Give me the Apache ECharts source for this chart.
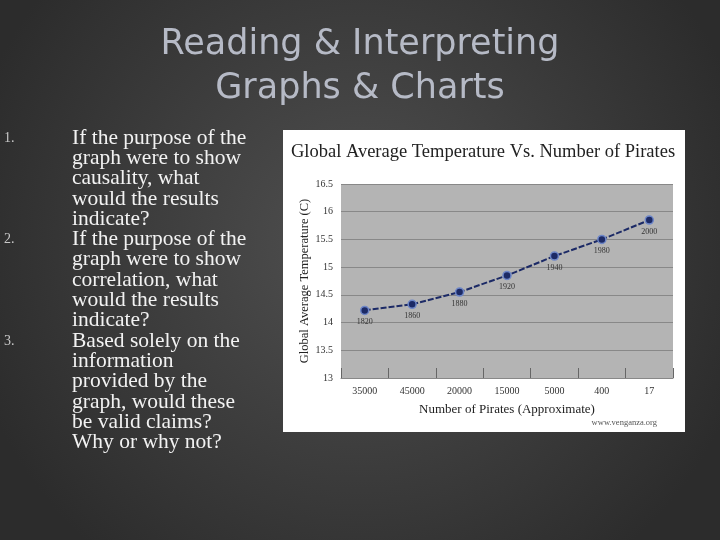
<!DOCTYPE html><html><head><meta charset="utf-8"><script src="https://cdn.jsdelivr.net/npm/echarts@6/dist/echarts.min.js"></script>
<style>html,body{margin:0;padding:0;background:#3a3a3a}#c{width:720px;height:540px}</style></head><body><div id="c"></div><script>
const categories=['35000','45000','20000','15000','5000','400','17'];
const temps=[14.22,14.33,14.55,14.85,15.2,15.5,15.85];
const years=['1820','1860','1880','1920','1940','1980','2000'];
const yTicks=[13,13.5,14,14.5,15,15.5,16,16.5];
const listLines=[['1.','If the purpose of the'],['','graph were to show'],['','causality, what'],['','would the results'],['','indicate?'],['2.','If the purpose of the'],['','graph were to show'],['','correlation, what'],['','would the results'],['','indicate?'],['3.','Based solely on the'],['','information'],['','provided by the'],['','graph, would these'],['','be valid claims?'],['','Why or why not?']];
const g=[];
g.push({type:'rect',shape:{x:0,y:0,width:720,height:540},style:{fill:{type:'radial',x:0.5,y:0.45,r:0.75,colorStops:[{offset:0,color:'#505050'},{offset:1,color:'#2c2c2c'}]}},z:-10});
g.push({type:'text',style:{x:360,y:45,text:'Reading & Interpreting',font:'35px "DejaVu Sans"',fill:'#b6bac6',textAlign:'center',textVerticalAlign:'middle'}});
g.push({type:'text',style:{x:360,y:89,text:'Graphs & Charts',font:'35px "DejaVu Sans"',fill:'#b6bac6',textAlign:'center',textVerticalAlign:'middle'}});
listLines.forEach((l,i)=>{const y=138+i*20.3;
 if(l[0])g.push({type:'text',style:{x:4,y:y,text:l[0],font:'14px "Liberation Serif"',fill:'#c8c8c8',textVerticalAlign:'middle'}});
 g.push({type:'text',style:{x:72,y:y,text:l[1],font:'21.5px "Liberation Serif"',fill:'#f2f2f2',textVerticalAlign:'middle'}});});
g.push({type:'rect',shape:{x:283,y:130,width:402,height:302},style:{fill:'#ffffff'},z:-5});
g.push({type:'rect',shape:{x:341,y:184,width:332,height:194},style:{fill:'#b4b4b4'},z:-4});
g.push({type:'text',style:{x:483,y:152,text:'Global Average Temperature Vs. Number of Pirates',font:'18.5px "Liberation Serif"',fill:'#222',textAlign:'center',textVerticalAlign:'middle'}});
g.push({type:'text',style:{x:657,y:423,text:'www.venganza.org',font:'8.5px "Liberation Serif"',fill:'#555',textAlign:'right',textVerticalAlign:'middle'}});
const chart=echarts.init(document.getElementById('c'));
chart.setOption({animation:false,graphic:g,
grid:{left:341,top:184,width:332,height:194},
xAxis:{type:'category',data:categories,boundaryGap:true,name:'Number of Pirates (Approximate)',nameLocation:'middle',nameGap:25,nameTextStyle:{fontFamily:'Liberation Serif',fontSize:13,color:'#222'},
 axisLine:{lineStyle:{color:'#888'}},axisTick:{show:true,length:10,inside:true,lineStyle:{color:'#666'}},axisLabel:{fontFamily:'Liberation Serif',fontSize:10,color:'#333',margin:8}},
yAxis:{type:'value',min:13,max:16.5,interval:0.5,name:'Global Average Temperature (C)',nameLocation:'middle',nameGap:30,nameTextStyle:{fontFamily:'Liberation Serif',fontSize:12.5,color:'#222'},
 axisLine:{show:false},axisTick:{show:false},splitLine:{lineStyle:{color:'#888'}},axisLabel:{fontFamily:'Liberation Serif',fontSize:10,color:'#333',formatter:v=>String(v)}},
series:[{type:'line',data:temps,symbol:'circle',symbolSize:8,itemStyle:{color:'#1c2a66',borderColor:'#6d86c8',borderWidth:1.5},lineStyle:{color:'#1c2a66',width:2,type:[6,2]},
 label:{show:true,position:'bottom',distance:3,formatter:p=>years[p.dataIndex],fontFamily:'Liberation Serif',fontSize:8,color:'#333'}}]});
</script></body></html>
